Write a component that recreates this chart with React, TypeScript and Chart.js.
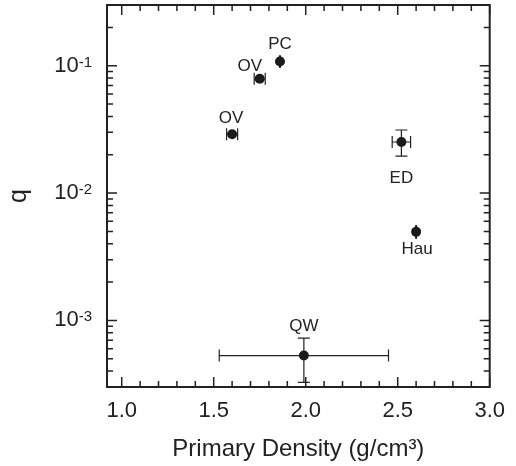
import React, { useEffect, useRef } from 'react';
import { Chart, registerables } from 'chart.js';

Chart.register(...registerables);

// ---- data ----
const sampleLabels = ['OV', 'OV', 'PC', 'ED', 'Hau', 'QW'];
const density = [1.6, 1.75, 1.86, 2.52, 2.6, 1.99];
const densityErr = [0.03, 0.03, 0, 0.05, 0, 0.46];
const qValues = [0.029, 0.079, 0.108, 0.0252, 0.00496, 0.00053];
const qLower = [0.029, 0.079, 0.096, 0.0195, 0.00437, 0.000326];
const qUpper = [0.029, 0.079, 0.121, 0.0313, 0.00562, 0.000727];
const xTickValues = [1.0, 1.5, 2.0, 2.5, 3.0];
const yTickValues = [0.001, 0.01, 0.1];
const yTickBase = ['10', '10', '10'];
const yTickExponents = ['-3', '-2', '-1'];
const xTitle = 'Primary Density (g/cm\u00B3)';
const yTitle = 'q';

const FONT = '"Liberation Sans", Arial, Helvetica, sans-serif';
const INK = '#222';

const labelOffsets = [
  [-1, -16],
  [-10, -12],
  [0, -17],
  [0, 36],
  [1, 17],
  [0, -29],
];

const decorPlugin = {
  id: 'decor',
  beforeDatasetsDraw(chart: any) {
    const ctx = chart.ctx;
    const xs = chart.scales.x;
    const ys = chart.scales.y;
    ctx.save();
    ctx.strokeStyle = INK;
    ctx.lineWidth = 1.2;
    const cap = 6;
    for (let i = 0; i < density.length; i++) {
      const px = xs.getPixelForValue(density[i]);
      const py = ys.getPixelForValue(qValues[i]);
      if (densityErr[i] > 0) {
        const x0 = xs.getPixelForValue(density[i] - densityErr[i]);
        const x1 = xs.getPixelForValue(density[i] + densityErr[i]);
        ctx.beginPath();
        ctx.moveTo(x0, py);
        ctx.lineTo(x1, py);
        ctx.moveTo(x0, py - cap);
        ctx.lineTo(x0, py + cap);
        ctx.moveTo(x1, py - cap);
        ctx.lineTo(x1, py + cap);
        ctx.stroke();
      }
      if (qUpper[i] !== qLower[i]) {
        const y0 = ys.getPixelForValue(qUpper[i]);
        const y1 = ys.getPixelForValue(qLower[i]);
        const showCaps = Math.abs(y1 - y0) > 20;
        ctx.beginPath();
        ctx.lineWidth = showCaps ? 1.2 : 2;
        ctx.moveTo(px, y0);
        ctx.lineTo(px, y1);
        if (showCaps) {
          ctx.moveTo(px - cap, y0);
          ctx.lineTo(px + cap, y0);
          ctx.moveTo(px - cap, y1);
          ctx.lineTo(px + cap, y1);
        }
        ctx.stroke();
        ctx.lineWidth = 1.2;
      }
    }
    ctx.restore();
  },
  afterDatasetsDraw(chart: any) {
    const ctx = chart.ctx;
    const xs = chart.scales.x;
    const ys = chart.scales.y;
    const { left, right, top, bottom } = chart.chartArea;
    ctx.save();
    // frame
    ctx.strokeStyle = INK;
    ctx.lineWidth = 2;
    ctx.strokeRect(left, top, right - left, bottom - top);
    // x ticks (inward, bottom and top)
    ctx.lineWidth = 1.5;
    ctx.beginPath();
    for (let k = 10; k <= 30; k++) {
      const v = k / 10;
      const major = k % 5 === 0;
      const len = major ? 10 : 6;
      const px = xs.getPixelForValue(v);
      ctx.moveTo(px, bottom);
      ctx.lineTo(px, bottom - len);
      ctx.moveTo(px, top);
      ctx.lineTo(px, top + len);
    }
    // y ticks (inward, left and right)
    for (let d = -4; d <= -1; d++) {
      for (let m = 1; m <= 9; m++) {
        const v = m * Math.pow(10, d);
        if (v < ys.min || v > ys.max) continue;
        const len = m === 1 ? 10 : 6;
        const py = ys.getPixelForValue(v);
        ctx.moveTo(left, py);
        ctx.lineTo(left + len, py);
        ctx.moveTo(right, py);
        ctx.lineTo(right - len, py);
      }
    }
    ctx.stroke();

    // y tick labels with superscripts
    ctx.fillStyle = INK;
    const rightEdge = left - 15;
    for (let i = 0; i < yTickValues.length; i++) {
      const py = ys.getPixelForValue(yTickValues[i]);
      ctx.font = `22px ${FONT}`;
      const wb = ctx.measureText(yTickBase[i]).width;
      ctx.font = `15px ${FONT}`;
      const we = ctx.measureText(yTickExponents[i]).width;
      const x0 = rightEdge - wb - we;
      ctx.font = `22px ${FONT}`;
      ctx.textAlign = 'left';
      ctx.textBaseline = 'middle';
      ctx.fillText(yTickBase[i], x0, py);
      ctx.font = `15px ${FONT}`;
      ctx.textBaseline = 'alphabetic';
      ctx.fillText(yTickExponents[i], x0 + wb, py + 1);
    }

    // point labels
    ctx.font = `17px ${FONT}`;
    ctx.textAlign = 'center';
    ctx.textBaseline = 'middle';
    for (let i = 0; i < sampleLabels.length; i++) {
      const px = xs.getPixelForValue(density[i]);
      const py = ys.getPixelForValue(qValues[i]);
      ctx.fillText(sampleLabels[i], px + labelOffsets[i][0], py + labelOffsets[i][1]);
    }
    ctx.restore();
  },
};

export default function App() {
  const canvasRef = useRef<HTMLCanvasElement | null>(null);

  useEffect(() => {
    const canvas = canvasRef.current;
    if (!canvas) return;
    const chart = new Chart(canvas, {
      type: 'scatter',
      data: {
        datasets: [
          {
            label: 'q',
            data: density.map((d, i) => ({ x: d, y: qValues[i] })),
            pointRadius: 5,
            pointHoverRadius: 5,
            pointBackgroundColor: '#1a1a1a',
            pointBorderWidth: 0,
            showLine: false,
          },
        ],
      },
      options: {
        responsive: false,
        animation: false,
        events: [],
        layout: { padding: { top: 4, right: 25, left: 0, bottom: 0 } },
        plugins: {
          legend: { display: false },
          tooltip: { enabled: false },
        },
        scales: {
          x: {
            type: 'linear',
            min: 0.92,
            max: 3.0,
            grid: { display: false, drawTicks: false },
            border: { display: false },
            afterBuildTicks: (s: any) => {
              s.ticks = xTickValues.map((v) => ({ value: v }));
            },
            afterFit: (s: any) => {
              s.height = 79;
            },
            ticks: {
              padding: 11,
              color: INK,
              font: { family: FONT, size: 22 },
              maxRotation: 0,
              callback: (v: any) => Number(v).toFixed(1),
            },
            title: {
              display: true,
              text: xTitle,
              color: INK,
              font: { family: FONT, size: 24 },
              padding: { top: 0, bottom: 2 },
            },
          },
          y: {
            type: 'logarithmic',
            min: 0.0003,
            max: 0.3,
            grid: { display: false, drawTicks: false },
            border: { display: false },
            afterBuildTicks: (s: any) => {
              s.ticks = yTickValues.map((v) => ({ value: v }));
            },
            afterFit: (s: any) => {
              s.width = 107;
            },
            ticks: { display: false },
            title: {
              display: true,
              text: yTitle,
              color: INK,
              font: { family: FONT, size: 25 },
              padding: { top: 4, bottom: 0 },
            },
          },
        },
      },
      plugins: [decorPlugin],
    });
    return () => chart.destroy();
  }, []);

  return (
    <div style={{ position: 'absolute', left: 0, top: 0, width: 516, height: 466 }}>
      <canvas ref={canvasRef} width={516} height={466} />
    </div>
  );
}
